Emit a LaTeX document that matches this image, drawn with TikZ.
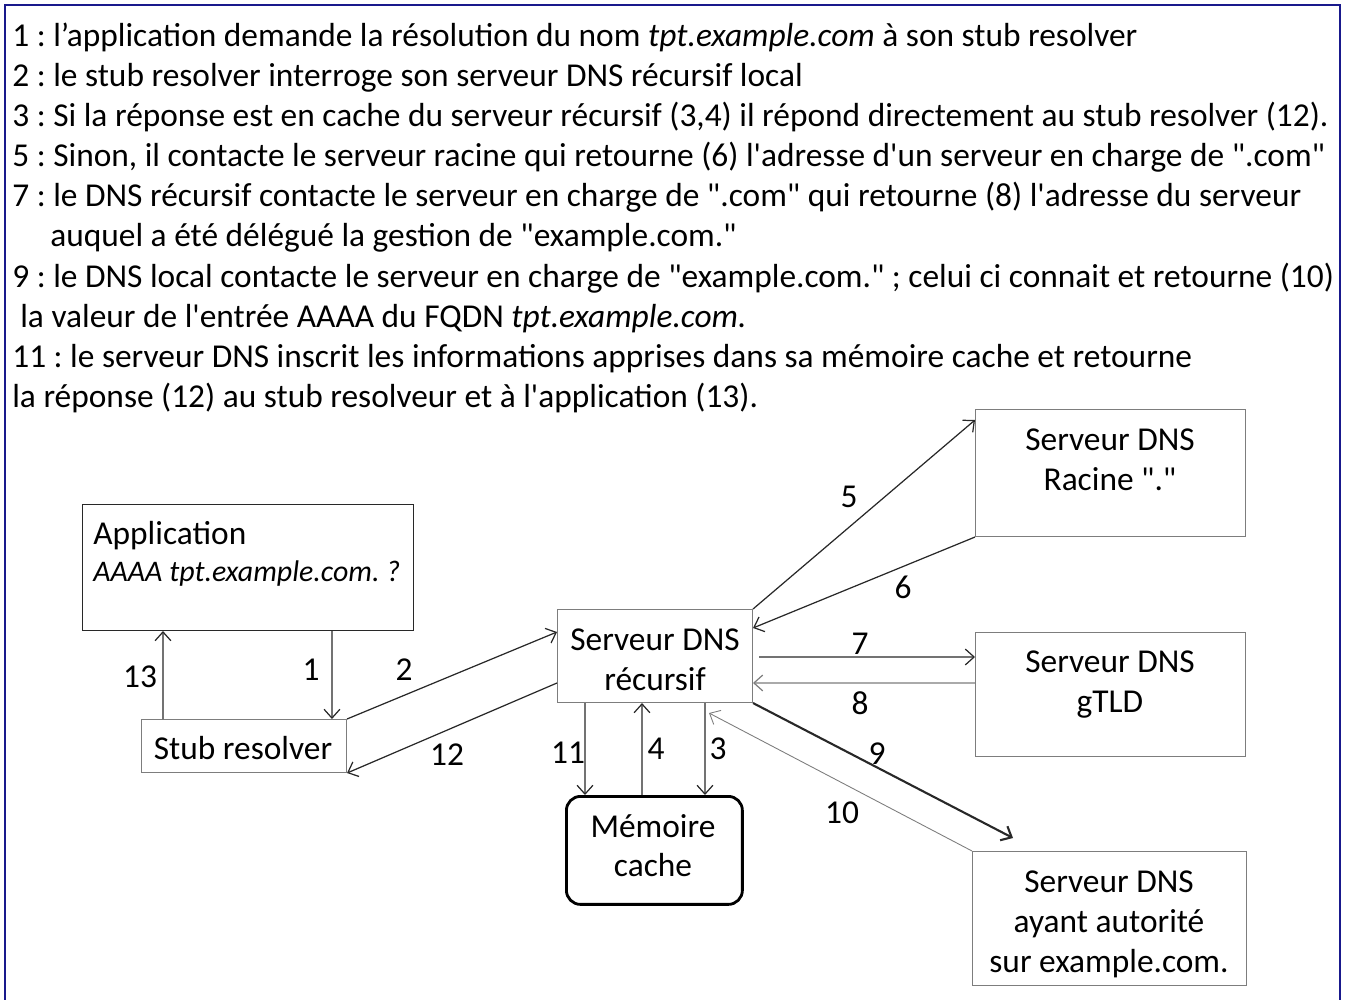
\documentclass[tikz,border=0pt]{standalone}
\usepackage{fontspec}
\setmainfont[Ligatures=TeXOff]{Carlito}
\frenchspacing
\usetikzlibrary{positioning}
\usetikzlibrary{arrows.meta}

\definecolor{cadre}{RGB}{25,25,140}
\definecolor{trait}{RGB}{40,40,40}
\definecolor{gris}{RGB}{125,125,125}

\tikzset{
  boite/.style={draw=gris, line width=0.6pt, anchor=north west, inner sep=0pt},
  ligne/.style={anchor=base west, inner sep=0pt, font=\fontsize{19}{23}\selectfont},
  txt/.style={anchor=base, inner sep=0pt, font=\fontsize{19}{23}\selectfont},
  num/.style={inner sep=0pt, font=\fontsize{19}{23}\selectfont},
  fleche/.style={draw=trait, line width=0.7pt, -{Straight Barb[length=5pt,width=9pt]}},
}

\begin{document}
\begin{tikzpicture}[x=0.02cm, y=-0.02cm]
\useasboundingbox (0,0) rectangle (1352,1000);
\draw[cadre, line width=1.3pt] (5,1000) -- (5,5) -- (1340,5) -- (1340,1000);

% explications
\node[ligne] (l1) at (12,47) {1 : l’application demande la résolution du nom \textit{tpt.example.com} à son stub resolver};
\node[ligne] (l2) at (12,87) {2 : le stub resolver interroge son serveur DNS récursif local};
\node[ligne] (l3) at (12,127) {3 : Si la réponse est en cache du serveur récursif (3,4) il répond directement au stub resolver (12).};
\node[ligne] (l4) at (12,167) {5 : Sinon, il contacte le serveur racine qui retourne (6) l'adresse d'un serveur en charge de ".com"};
\node[ligne] (l5) at (12,207) {7 : le DNS récursif contacte le serveur en charge de ".com" qui retourne (8) l'adresse du serveur};
\node[ligne] (l6) at (50,247) {auquel a été délégué la gestion de "example.com."};
\node[ligne] (l7) at (12,287) {9 : le DNS local contacte le serveur en charge de "example.com." ; celui ci connait et retourne (10)};
\node[ligne] (l8) at (20,327) {la valeur de l'entrée AAAA du FQDN \textit{tpt.example.com.}};
\node[ligne] (l9) at (12,367) {11 : le serveur DNS inscrit les informations apprises dans sa mémoire cache et retourne};
\node[ligne] (l10) at (12,407) {la réponse (12) au stub resolveur et à l'application (13).};

% boites
\node[boite, draw=trait, minimum width=6.62cm, minimum height=2.52cm] (app) at (82,504) {};
\node[ligne] (apptxt) at (93,544) {Application};
\node[ligne, font=\fontsize{17}{21}\selectfont] (appreq) at (93,581) {\textit{AAAA tpt.example.com. ?}};

\node[boite, minimum width=4.1cm, minimum height=1.06cm] (stub) at (141,719) {};
\node[txt] (stubtxt) at (243,759) {Stub resolver};

\node[boite, minimum width=3.9cm, minimum height=1.86cm] (rec) at (557,609) {};
\node[txt] (rec1) at (655,650) {Serveur DNS};
\node[txt] (rec2) at (655,690) {récursif};

\node[boite, draw=black, line width=1.6pt, rounded corners=8pt, minimum width=3.52cm, minimum height=2.16cm] (cache) at (565,795) {};
\node[txt] (cache1) at (653,837) {Mémoire};
\node[txt] (cache2) at (653,876) {cache};

\node[boite, minimum width=5.4cm, minimum height=2.54cm] (racine) at (975,409) {};
\node[txt] (racine1) at (1110,450) {Serveur DNS};
\node[txt] (racine2) at (1110,490) {Racine "."};

\node[boite, minimum width=5.4cm, minimum height=2.48cm] (gtld) at (975,632) {};
\node[txt] (gtld1) at (1110,672) {Serveur DNS};
\node[txt] (gtld2) at (1110,712) {gTLD};

\node[boite, minimum width=5.48cm, minimum height=2.68cm] (auto) at (972,851) {};
\node[txt] (auto1) at (1109,892) {Serveur DNS};
\node[txt] (auto2) at (1109,932) {ayant autorité};
\node[txt] (auto3) at (1109,972) {sur example.com.};

% fleches
\draw[fleche] ([xshift=0.44cm]stub.north west) -- ([xshift=1.62cm]app.south west);
\draw[fleche] ([xshift=5cm]app.south west) -- ([xshift=3.82cm]stub.north west);
\draw[fleche] (stub.north east) -- ([yshift=-0.46cm]rec.north west);
\draw[fleche] ([yshift=-1.48cm]rec.north west) -- (stub.south east);
\draw[fleche] ([xshift=0.56cm]rec.south west) -- ([xshift=0.4cm]cache.north west);
\draw[fleche] ([xshift=1.54cm]cache.north west) -- ([xshift=1.7cm]rec.south west);
\draw[fleche] ([xshift=2.96cm]rec.south west) -- ([xshift=2.8cm]cache.north west);
\draw[fleche] (rec.north east) -- ([yshift=-0.22cm]racine.north west);
\draw[fleche] (racine.south west) -- ([yshift=-0.38cm]rec.north east);
\draw[fleche] ([xshift=0.12cm,yshift=-0.96cm]rec.north east) -- ([yshift=-0.5cm]gtld.north west);
\draw[fleche, draw=gris] ([yshift=-1.02cm]gtld.north west) -- ([yshift=-1.48cm]rec.north east);
\draw[fleche, line width=1.2pt] (rec.south east) -- ([xshift=0.82cm,yshift=0.26cm]auto.north west);
\draw[fleche, draw=gris, line width=0.5pt] (auto.north west) -- ([xshift=-0.88cm,yshift=-0.2cm]rec.south east);

% numeros
\node[num] (n13) at (140,677) {13};
\node[num] (n1) at (311,670) {1};
\node[num] (n2) at (404,670) {2};
\node[num] (n12) at (447,755) {12};
\node[num] (n11) at (568,753) {11};
\node[num] (n4) at (656,749) {4};
\node[num] (n3) at (718,749) {3};
\node[num] (n5) at (849,497) {5};
\node[num] (n6) at (903,587) {6};
\node[num] (n7) at (860,644) {7};
\node[num] (n8) at (860,703) {8};
\node[num] (n9) at (877,754) {9};
\node[num] (n10) at (842,813) {10};
\end{tikzpicture}
\end{document}
